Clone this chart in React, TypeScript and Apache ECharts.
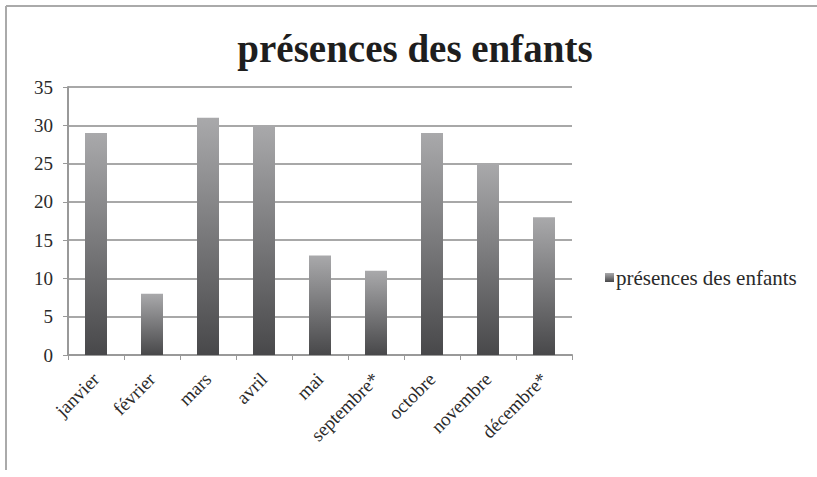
import React, { useEffect, useRef } from "react";
import * as echarts from "echarts";

const categories = ["janvier", "février", "mars", "avril", "mai", "septembre*", "octobre", "novembre", "décembre*"];
const presences = [29, 8, 31, 30, 13, 11, 29, 25, 18];
const seriesName = "présences des enfants";
const titleText = "présences des enfants";

export default function App() {
  const ref = useRef<HTMLDivElement>(null);
  useEffect(() => {
    if (!ref.current) return;
    const chart = echarts.init(ref.current, null, { renderer: "svg" });
    const font = "'Liberation Serif', serif";
    chart.setOption({
      animation: false,
      backgroundColor: "#ffffff",
      title: {
        text: titleText,
        left: 410,
        textAlign: "center",
        top: 24,
        textStyle: { fontFamily: font, fontWeight: "bold", fontSize: 39, color: "#1e1e1e" },
      },
      legend: {
        data: [seriesName],
        left: 600,
        top: 262,
        icon: "rect",
        itemWidth: 9,
        itemHeight: 9,
        itemGap: 4,
        textStyle: { fontFamily: font, fontSize: 21, color: "#2a2a2a", padding: [2, 0, 0, -3] },
      },
      grid: { left: 68, right: 245, top: 87, bottom: 122 },
      xAxis: {
        type: "category",
        data: categories,
        axisLine: { lineStyle: { color: "#999", width: 2 } },
        axisTick: { show: true, alignWithLabel: false, length: 5, lineStyle: { color: "#999" } },
        axisLabel: {
          rotate: 45,
          interval: 0,
          margin: 21,
          fontFamily: font,
          fontSize: 19,
          color: "#2a2a2a",
        },
      },
      yAxis: {
        type: "value",
        min: 0,
        max: 35,
        interval: 5,
        axisLine: { show: true, lineStyle: { color: "#999", width: 2 } },
        axisTick: { show: true, length: 5, lineStyle: { color: "#999" } },
        splitLine: { lineStyle: { color: "#a8a8a8", width: 2 } },
        axisLabel: { fontFamily: font, fontSize: 19, color: "#2a2a2a", margin: 15 },
      },
      series: [
        {
          name: seriesName,
          type: "bar",
          data: presences,
          barWidth: 22,
          itemStyle: {
            color: new echarts.graphic.LinearGradient(0, 0, 0, 1, [
              { offset: 0, color: "#a9a9ab" },
              { offset: 1, color: "#48484a" },
            ]),
          },
        },
      ],
      graphic: [
        { type: "line", shape: { x1: 6, y1: 6, x2: 817, y2: 6 }, style: { stroke: "#aaa", lineWidth: 2 } },
        { type: "line", shape: { x1: 6, y1: 6, x2: 6, y2: 470 }, style: { stroke: "#aaa", lineWidth: 2 } },
      ],
    });
    return () => chart.dispose();
  }, []);
  return <div ref={ref} style={{ position: "absolute", left: 0, top: 0, width: 817, height: 477 }} />;
}
